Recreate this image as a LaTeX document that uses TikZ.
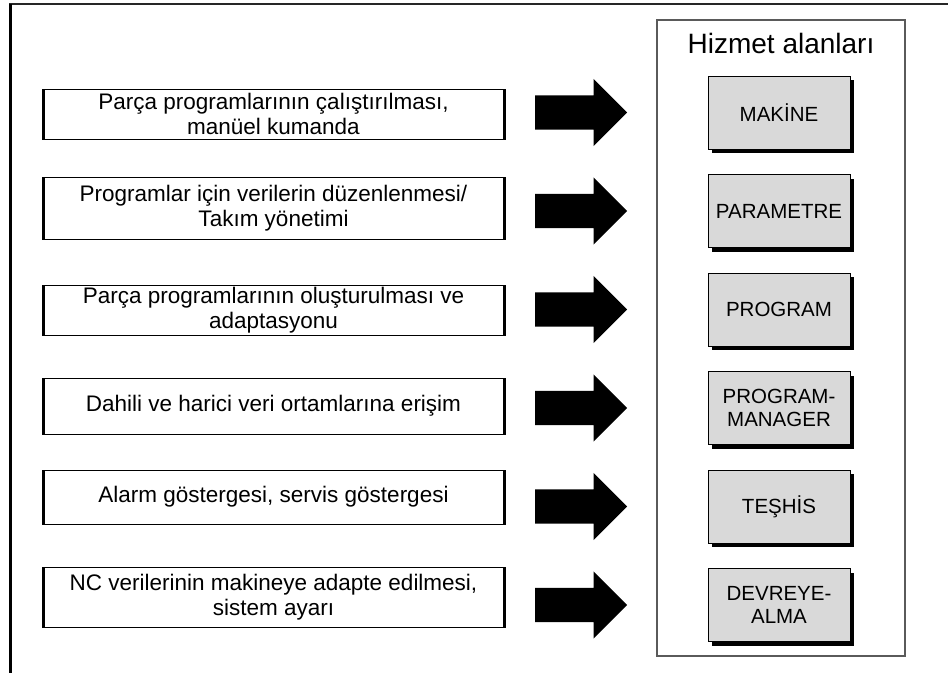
\documentclass[tikz,border=0pt]{standalone}
\usepackage{fontspec}
\setmainfont{Liberation Sans}
\usepackage{xcolor}
\definecolor{areagray}{RGB}{217,217,217}
\definecolor{framegray}{RGB}{90,90,90}
\usetikzlibrary{positioning,calc,shapes.arrows,shadows}
\tikzset{
  task_box/.style={rectangle,draw=black,line width=0.9pt,
    minimum width=463pt,inner sep=0pt,
    path picture={
      \draw[line width=5pt]
        (path picture bounding box.north west) --
        (path picture bounding box.south west);
      \draw[line width=5pt]
        (path picture bounding box.north east) --
        (path picture bounding box.south east);}},
  task_txt/.style={align=center,inner sep=0pt,
    font=\fontsize{22.5}{25}\selectfont},
  area_box/.style={rectangle,draw=black,line width=1pt,
    fill=areagray,minimum width=142pt,minimum height=73pt,
    align=center,inner sep=2pt,
    font=\fontsize{20.5}{23}\selectfont,
    drop shadow={shadow xshift=4pt,shadow yshift=-4pt,
      fill=black,opacity=1}},
  blk_arr/.style={single arrow,fill=black,draw=none,
    inner xsep=0pt,inner ysep=17pt,
    single arrow head extend=16.5pt,
    minimum height=92pt},
}

\begin{document}
\begin{tikzpicture}[x=1pt,y=-1pt]
  \useasboundingbox (0,0) rectangle (948,673);
  % outer frame (only top and left side visible)
  \draw[line width=2pt,black!85] (9,4) -- (948,4);
  \draw[line width=3pt] (10,4) -- (10,673);

  % service areas panel
  \node (panel) [rectangle,draw=framegray,line width=1.6pt,
    minimum width=248pt,minimum height=636pt] at (781,338) {};
  \node (title) [font=\fontsize{28}{32}\selectfont,
    below=10pt of panel.north] {Hizmet alanları};

  \node (g1) [area_box] at (779,112.5) {MAKİNE};
  \node (g2) [area_box, below=24.5pt of g1] {PARAMETRE};
  \node (g3) [area_box, below=24.5pt of g2] {PROGRAM};
  \node (g4) [area_box, below=24.5pt of g3] {PROGRAM-\\MANAGER};
  \node (g5) [area_box, below=24.5pt of g4] {TEŞHİS};
  \node (g6) [area_box, below=24.5pt of g5] {DEVREYE-\\ALMA};

  % arrows
  \node (a1) [blk_arr, left=80pt of g1] {};
  \node (a2) [blk_arr, left=80pt of g2] {};
  \node (a3) [blk_arr, left=80pt of g3] {};
  \node (a4) [blk_arr, left=80pt of g4] {};
  \node (a5) [blk_arr, left=80pt of g5] {};
  \node (a6) [blk_arr, left=80pt of g6] {};

  % task boxes
  \node (b1) [task_box, minimum height=50pt] at (273.5,114) {};
  \node (b2) [task_box, minimum height=62pt] at (273.5,208) {};
  \node (b3) [task_box, minimum height=50pt] at (273.5,310) {};
  \node (b4) [task_box, minimum height=56pt] at (273.5,406) {};
  \node (b5) [task_box, minimum height=54pt] at (273.5,497) {};
  \node (b6) [task_box, minimum height=60pt] at (273.5,597) {};

  \node (t1) [task_txt] at (b1) {Parça programlarının çalıştırılması,\\manüel kumanda};
  \node (t2) [task_txt] at (b2) {Programlar için verilerin düzenlenmesi/\\Takım yönetimi};
  \node (t3) [task_txt] at (b3) {Parça programlarının oluşturulması ve\\adaptasyonu};
  \node (t4) [task_txt] at (b4) {Dahili ve harici veri ortamlarına erişim};
  \node (t5) [task_txt] at (b5) {Alarm göstergesi, servis göstergesi};
  \node (t6) [task_txt] at (b6) {NC verilerinin makineye adapte edilmesi,\\sistem ayarı};
\end{tikzpicture}
\end{document}
